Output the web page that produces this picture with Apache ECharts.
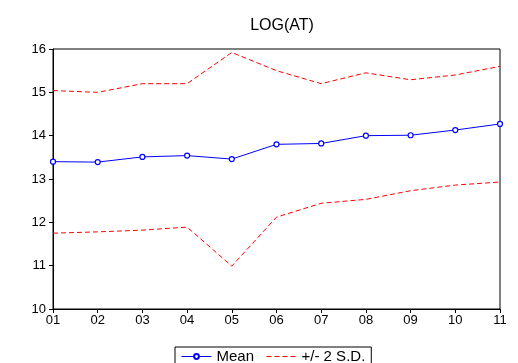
<!DOCTYPE html>
<html>
<head>
<meta charset="utf-8">
<script src="https://cdn.jsdelivr.net/npm/echarts@6/dist/echarts.min.js"></script>
<style>
  html, body { margin: 0; padding: 0; background: #fff; }
  #main { width: 518px; height: 363px; }
</style>
</head>
<body>
<div id="main"></div>
<script>
var periods = ['01', '02', '03', '04', '05', '06', '07', '08', '09', '10', '11'];
var meanVals = [13.40, 13.39, 13.51, 13.54, 13.46, 13.80, 13.82, 14.00, 14.01, 14.13, 14.27];
var upperVals = [15.04, 15.00, 15.20, 15.20, 15.92, 15.50, 15.20, 15.45, 15.29, 15.40, 15.60];
var lowerVals = [11.75, 11.78, 11.82, 11.89, 10.99, 12.12, 12.44, 12.53, 12.73, 12.86, 12.93];

var chart = echarts.init(document.getElementById('main'));
var font = 'Liberation Sans, Arial, sans-serif';
var sdName = '+/- 2 S.D.';

chart.setOption({
    animation: false,
    title: {
        text: 'LOG(AT)',
        left: 277, top: 13,
        textAlign: 'center',
        textStyle: { fontFamily: font, fontSize: 16, fontWeight: 'normal', color: '#000' }
    },
    legend: {
        data: [
            { name: 'Mean' },
            { name: sdName, itemStyle: { opacity: 0 } }
        ],
        left: 175, top: 347,
        padding: [2, 6, 2, 6],
        borderColor: '#000', borderWidth: 1,
        itemWidth: 30, itemHeight: 6, itemGap: 12,
        lineStyle: { width: 1 },
        textStyle: { fontFamily: font, fontSize: 15, color: '#000' }
    },
    grid: { left: 53, right: 18, top: 49, bottom: 54, show: true, borderColor: '#000', borderWidth: 1 },
    xAxis: {
        type: 'category',
        data: periods,
        boundaryGap: false,
        axisLine: { lineStyle: { color: '#000' } },
        axisTick: { show: true, length: 4, lineStyle: { color: '#000' } },
        axisLabel: { fontFamily: font, fontSize: 13, color: '#000', margin: 5, interval: 0 },
        splitLine: { show: false }
    },
    yAxis: {
        type: 'value',
        min: 10, max: 16, interval: 1,
        axisLine: { show: true, lineStyle: { color: '#000' } },
        axisTick: { show: true, length: 4, lineStyle: { color: '#000' } },
        axisLabel: { fontFamily: font, fontSize: 13, color: '#000', margin: 7 },
        splitLine: { show: false }
    },
    series: [
        {
            name: 'Mean', type: 'line', data: meanVals,
            symbol: 'circle', symbolSize: 5,
            itemStyle: { color: '#fff', borderColor: '#0000ff', borderWidth: 1.2 },
            lineStyle: { color: '#0000ff', width: 1 }
        },
        {
            name: sdName, type: 'line', data: upperVals,
            symbol: 'none',
            itemStyle: { color: '#ff0000' },
            lineStyle: { color: '#ff0000', width: 1, type: [5, 3] }
        },
        {
            name: sdName, type: 'line', data: lowerVals,
            symbol: 'none',
            itemStyle: { color: '#ff0000' },
            lineStyle: { color: '#ff0000', width: 1, type: [5, 3] }
        }
    ]
});
</script>
</body>
</html>
